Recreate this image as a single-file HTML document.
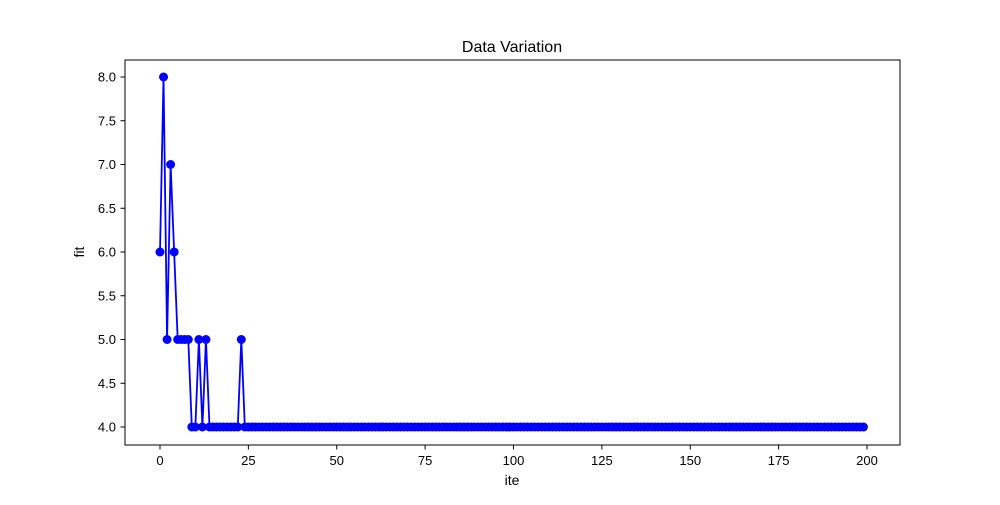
<!DOCTYPE html>
<html><head><meta charset="utf-8"><style>
body{margin:0;background:#fff}
svg text{font-family:"Liberation Sans","DejaVu Sans",sans-serif;fill:#000}
</style></head><body>
<svg id="chart" width="1000" height="500">
<rect width="1000" height="500" fill="#fff"/>
<text x="512" y="52" font-size="16" text-anchor="middle">Data Variation</text>
<text x="512" y="485" font-size="14" text-anchor="middle">ite</text>
<text transform="translate(84,252) rotate(-90)" font-size="14" text-anchor="middle">fit</text>
<g id="ticks"></g>
<g id="series"></g>
<rect x="125" y="60" width="775" height="385" fill="none" stroke="#000" stroke-width="1"/>
</svg>
<script>
const head = [6,8,5,7,6,5,5,5,5,4,4,5,4,5,4,4,4,4,4,4,4,4,4,5];
const tailLength = 176;
const tailValue = 4;
const xTicks = [0,25,50,75,100,125,150,175,200];
const yTicks = [4.0,4.5,5.0,5.5,6.0,6.5,7.0,7.5,8.0];
const values = head.concat(new Array(tailLength).fill(tailValue));
const NS = "http://www.w3.org/2000/svg";
function xs(v){return 160 + v*(867-160)/200;}
function ys(v){return 427 - (v-4)*(427-77)/4;}
const tg = document.getElementById('ticks');
xTicks.forEach(t=>{
  const l=document.createElementNS(NS,'line');
  l.setAttribute('x1',xs(t));l.setAttribute('x2',xs(t));l.setAttribute('y1',445);l.setAttribute('y2',449.5);l.setAttribute('stroke','#000');
  
  
  tg.appendChild(l);
  const tx=document.createElementNS(NS,'text');
  tx.setAttribute('x',xs(t));tx.setAttribute('y',465);tx.setAttribute('font-size','13');tx.setAttribute('text-anchor','middle');
  tx.textContent=t;
  
  
  tg.appendChild(tx);
});
yTicks.forEach(t=>{
  const l=document.createElementNS(NS,'line');
  l.setAttribute('x1',120.5);l.setAttribute('x2',125);l.setAttribute('y1',ys(t));l.setAttribute('y2',ys(t));l.setAttribute('stroke','#000');
  
  
  tg.appendChild(l);
  const tx=document.createElementNS(NS,'text');
  tx.setAttribute('x',116);tx.setAttribute('y',ys(t)+4.5);tx.setAttribute('font-size','13');tx.setAttribute('text-anchor','end');
  tx.textContent=t.toFixed(1);
  
  
  tg.appendChild(tx);
});
const sg=document.getElementById('series');
const pl=document.createElementNS(NS,'polyline');
pl.setAttribute('points',values.map((v,i)=>xs(i)+','+ys(v)).join(' '));
pl.setAttribute('fill','none');pl.setAttribute('stroke','#0000ff');pl.setAttribute('stroke-width','1.8');


sg.appendChild(pl);
values.forEach((v,i)=>{
  const c=document.createElementNS(NS,'circle');
  c.setAttribute('cx',xs(i));c.setAttribute('cy',ys(v));c.setAttribute('r',4.5);c.setAttribute('fill','#0000ff');
  
  
  sg.appendChild(c);
});
</script>
</body></html>
